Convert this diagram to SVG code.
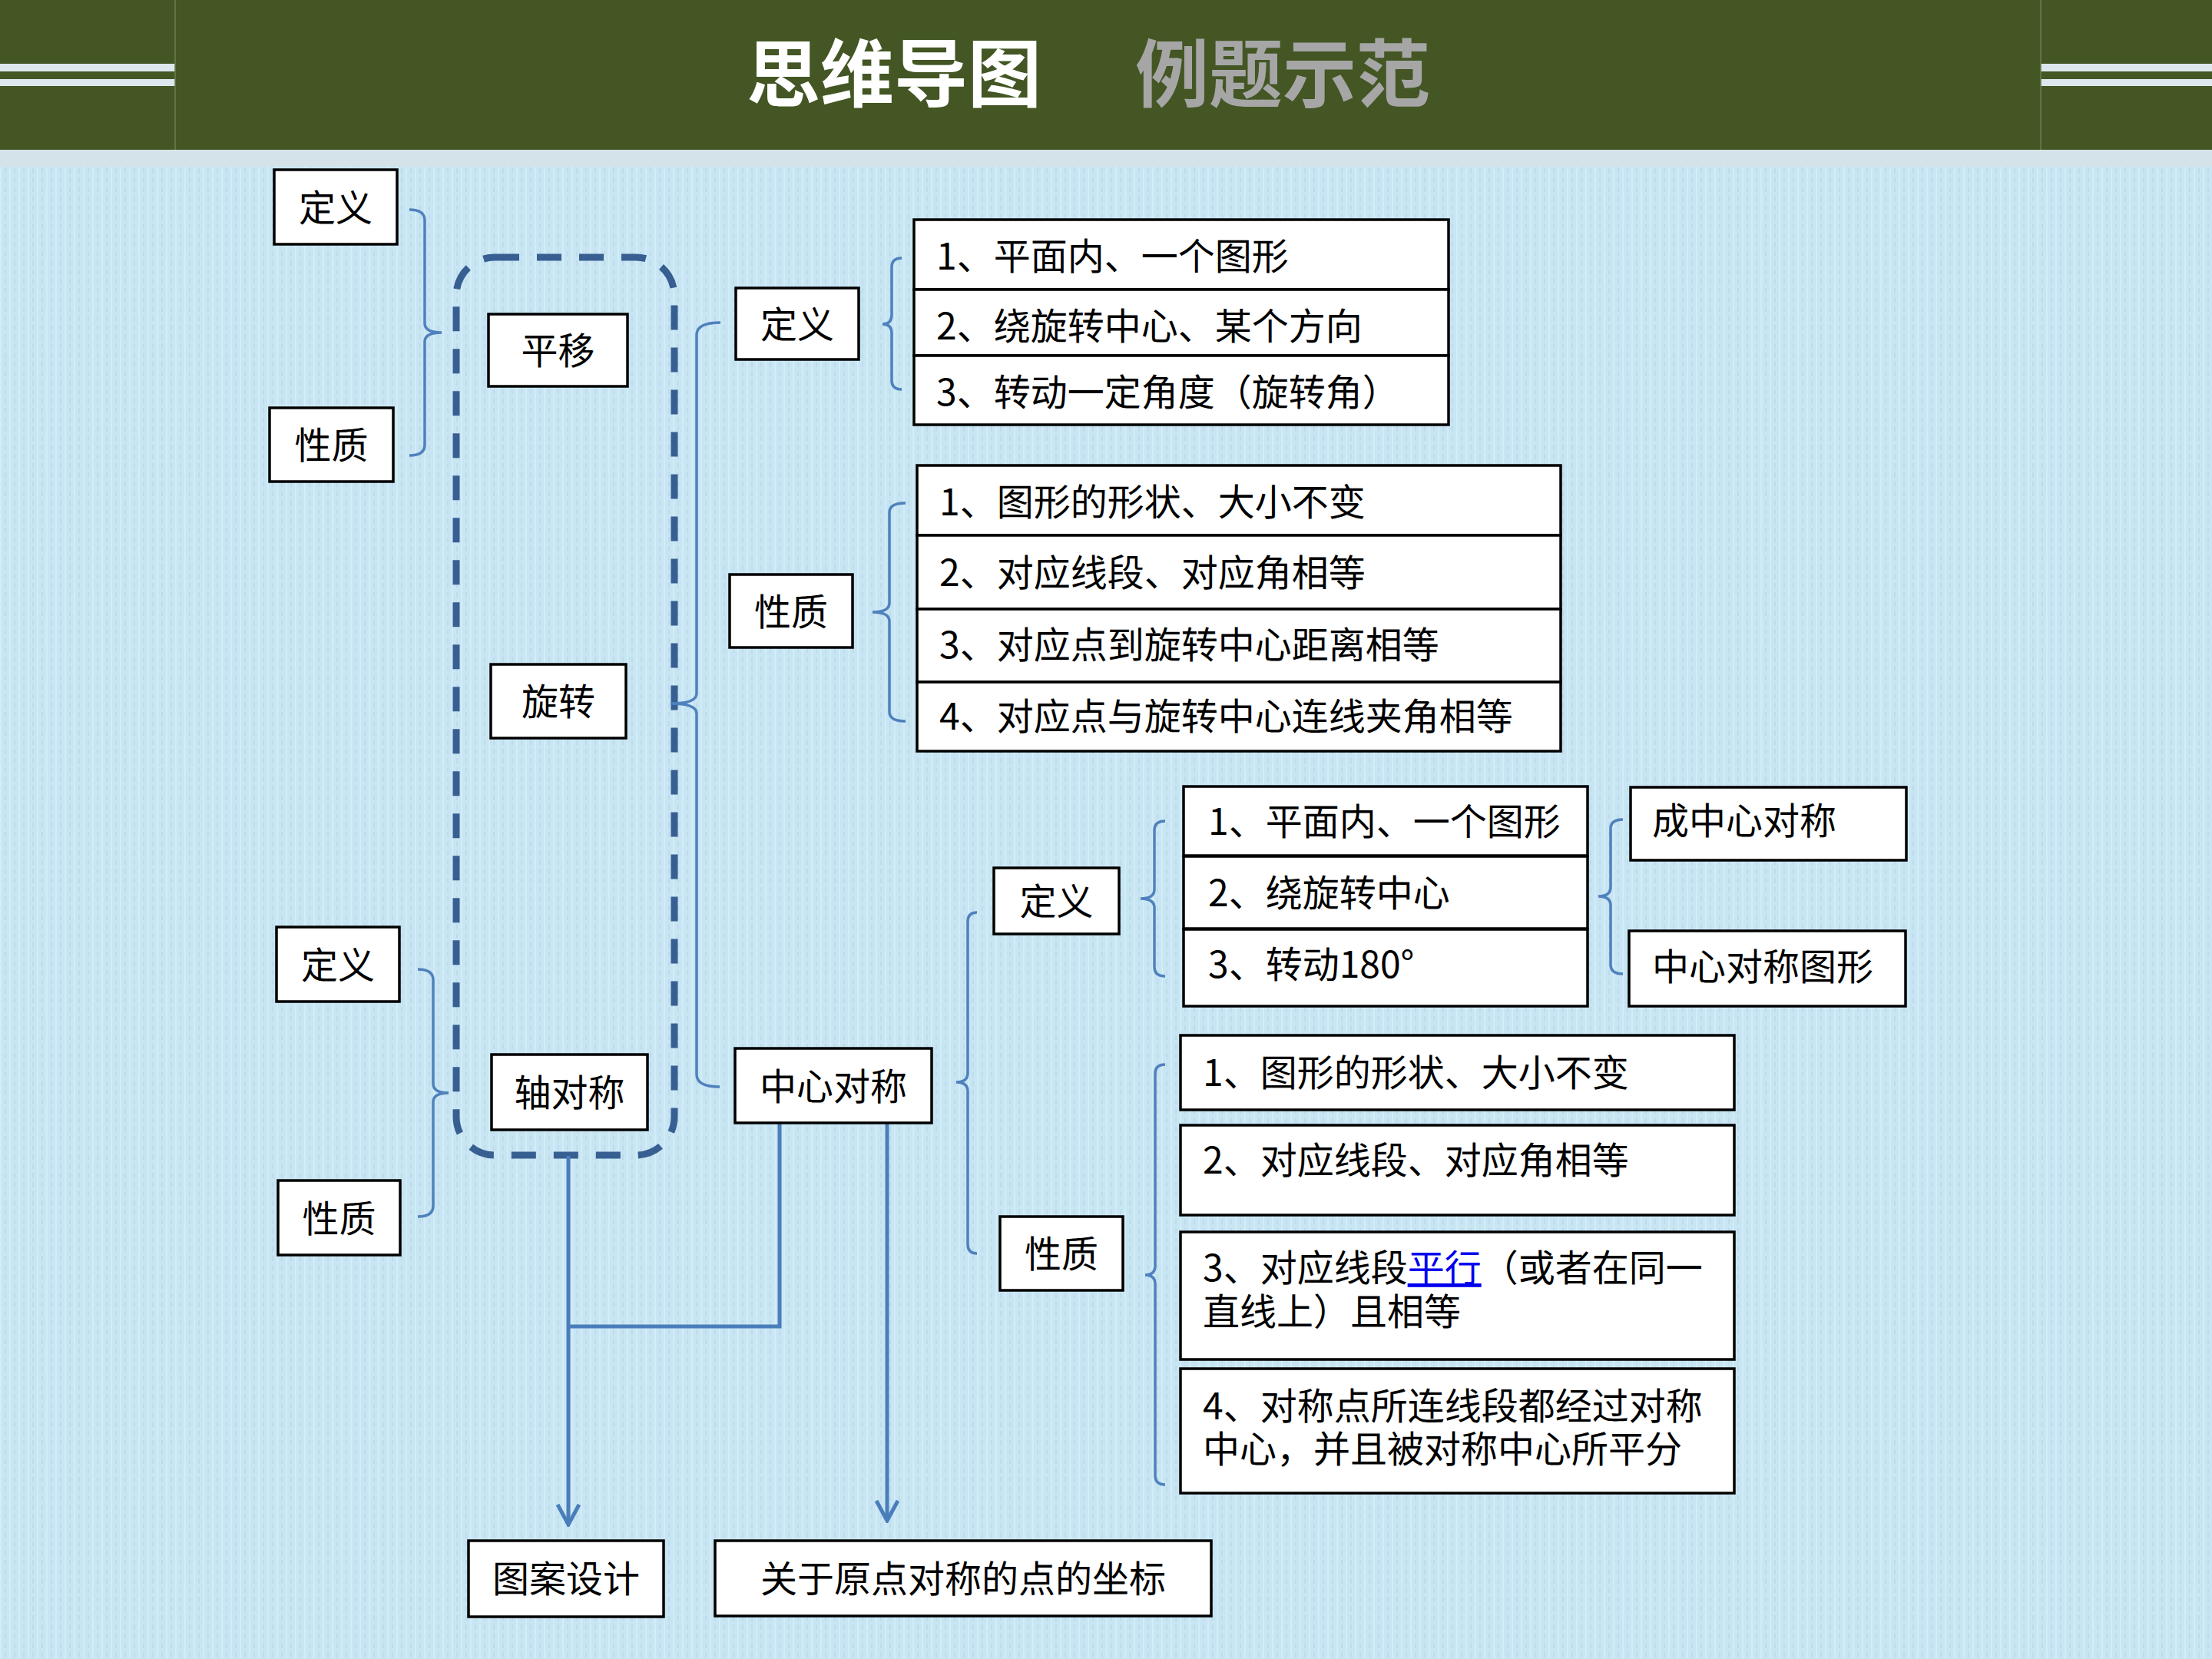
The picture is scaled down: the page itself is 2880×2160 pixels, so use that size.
<svg xmlns="http://www.w3.org/2000/svg" width="2880" height="2160" viewBox="0 0 2880 2160">
<defs>
<style>
text{font-family:"Noto Sans CJK SC","Noto Sans",sans-serif;fill:#000;}
.lbl{font-size:48px;text-anchor:middle;}
.itm{font-size:48px;}
.box{fill:#fff;stroke:#000;stroke-width:3.5;}
.brace{fill:none;stroke:#4f81bd;stroke-width:3.5;}
.conn{fill:none;stroke:#4a7ebb;stroke-width:5;}
</style>
<pattern id="tex" width="12" height="12" patternUnits="userSpaceOnUse">
<rect width="12" height="12" fill="#c8e5f3"/>
<rect x="0" y="0" width="2" height="12" fill="#d2ecf8"/>
<rect x="6" y="3" width="2" height="7" fill="#bedcea"/>
</pattern>
<marker id="arr" viewBox="0 0 32 32" refX="29" refY="16" markerWidth="32" markerHeight="32" markerUnits="userSpaceOnUse" orient="auto">
<path d="M3,2 L29,16 L3,30" fill="none" stroke="#4a7ebb" stroke-width="5"/>
</marker>
</defs>

<g id="background">
<rect width="2880" height="2160" fill="url(#tex)"/>
<rect x="0" y="195" width="2880" height="22" fill="#d4e3ea"/>
<rect x="0" y="0" width="2880" height="195" fill="#435624"/>
<rect x="0" y="83" width="228" height="10" fill="#dce8ee"/>
<rect x="0" y="103" width="228" height="9" fill="#dce8ee"/>
<rect x="2657" y="83" width="223" height="10" fill="#dce8ee"/>
<rect x="2657" y="103" width="223" height="9" fill="#dce8ee"/>
<line x1="228" y1="0" x2="228" y2="195" stroke="#6b7d52" stroke-width="1.5"/>
<line x1="2657" y1="0" x2="2657" y2="195" stroke="#6b7d52" stroke-width="1.5"/>
</g>

<g id="title">
<text x="972" y="131" font-size="96" font-weight="bold" style="fill:#ffffff">思维导图</text>
<text x="1478" y="131" font-size="96" font-weight="bold" style="fill:#a6a6a6">例题示范</text>
</g>

<g id="connectors">
<rect x="594" y="335" width="284" height="1169" rx="50" fill="none" stroke="#375f92" stroke-width="9" stroke-dasharray="32 23"/>
<path class="brace" d="M533,273 Q553,273 553,287 L553,421 Q553,433 575,433 Q553,433 553,445 L553,579 Q553,593 533,593"/>
<path class="brace" d="M544,1262 Q564,1262 564,1276 L564,1411 Q564,1423 584,1423 Q564,1423 564,1435 L564,1570 Q564,1584 544,1584"/>
<path class="brace" d="M938,420 Q907,420 907,436 L907,903 Q907,916 873,916 Q907,916 907,929 L907,1399 Q907,1415 937,1415"/>
<path class="brace" d="M1174,336 Q1161,336 1161,348 L1161,410 Q1161,422 1149,422 Q1161,422 1161,434 L1161,495 Q1161,507 1174,507"/>
<path class="brace" d="M1179,655 Q1158,655 1158,667 L1158,785 Q1158,797 1136,797 Q1158,797 1158,809 L1158,927 Q1158,939 1179,939"/>
<path class="brace" d="M1272,1188 Q1260,1188 1260,1200 L1260,1397 Q1260,1409 1245,1409 Q1260,1409 1260,1421 L1260,1620 Q1260,1632 1272,1632"/>
<path class="brace" d="M1517,1069 Q1503,1069 1503,1081 L1503,1158 Q1503,1170 1485,1170 Q1503,1170 1503,1182 L1503,1259 Q1503,1271 1517,1271"/>
<path class="brace" d="M2113,1067 Q2097,1067 2097,1079 L2097,1155 Q2097,1167 2081,1167 Q2097,1167 2097,1179 L2097,1256 Q2097,1268 2113,1268"/>
<path class="brace" d="M1517,1386 Q1504,1386 1504,1398 L1504,1648 Q1504,1660 1491,1660 Q1504,1660 1504,1672 L1504,1921 Q1504,1933 1517,1933"/>
<path class="conn" d="M740,1505 V1985" marker-end="url(#arr)"/>
<path class="conn" d="M1015,1463 V1727 H740"/>
<path class="conn" d="M1155,1463 V1980" marker-end="url(#arr)"/>
</g>

<g id="node-pingyi-dingyi"><rect class="box" x="357" y="221" width="160" height="97"/><text class="lbl" x="437" y="288">定义</text></g>
<g id="node-pingyi-xingzhi"><rect class="box" x="351" y="531" width="161" height="96"/><text class="lbl" x="431.5" y="597">性质</text></g>
<g id="node-pingyi"><rect class="box" x="636" y="409" width="181" height="94"/><text class="lbl" x="726.5" y="474">平移</text></g>
<g id="node-xuanzhuan"><rect class="box" x="639" y="865" width="176" height="96"/><text class="lbl" x="727" y="931">旋转</text></g>
<g id="node-zhouduicheng"><rect class="box" x="640" y="1373" width="203" height="98"/><text class="lbl" x="741.5" y="1440">轴对称</text></g>
<g id="node-zhongxinduicheng"><rect class="box" x="957" y="1365" width="256" height="97"/><text class="lbl" x="1085" y="1432">中心对称</text></g>
<g id="node-zhou-dingyi"><rect class="box" x="360" y="1207" width="160" height="97"/><text class="lbl" x="440" y="1274">定义</text></g>
<g id="node-zhou-xingzhi"><rect class="box" x="362" y="1537" width="159" height="97"/><text class="lbl" x="441.5" y="1604">性质</text></g>

<g id="node-xz-dingyi"><rect class="box" x="958" y="375" width="160" height="93"/><text class="lbl" x="1038" y="440">定义</text></g>
<g id="node-xz-dingyi-items">
<rect class="box" x="1190" y="286" width="696" height="91"/>
<rect class="box" x="1190" y="377" width="696" height="86"/>
<rect class="box" x="1190" y="463" width="696" height="90"/>
<text class="itm" x="1219" y="351">1、平面内、一个图形</text>
<text class="itm" x="1219" y="442">2、绕旋转中心、某个方向</text>
<text class="itm" x="1219" y="528">3、转动一定角度（旋转角）</text>
</g>
<g id="node-xz-xingzhi"><rect class="box" x="950" y="748" width="160" height="95"/><text class="lbl" x="1030" y="814">性质</text></g>
<g id="node-xz-xingzhi-items">
<rect class="box" x="1194" y="606" width="838" height="91"/>
<rect class="box" x="1194" y="697" width="838" height="96"/>
<rect class="box" x="1194" y="793" width="838" height="95"/>
<rect class="box" x="1194" y="888" width="838" height="90"/>
<text class="itm" x="1223" y="671">1、图形的形状、大小不变</text>
<text class="itm" x="1223" y="763">2、对应线段、对应角相等</text>
<text class="itm" x="1223" y="857">3、对应点到旋转中心距离相等</text>
<text class="itm" x="1223" y="950">4、对应点与旋转中心连线夹角相等</text>
</g>

<g id="node-zx-dingyi"><rect class="box" x="1294" y="1130" width="163" height="86"/><text class="lbl" x="1375.5" y="1191">定义</text></g>
<g id="node-zx-dingyi-items">
<rect class="box" x="1541" y="1024" width="526" height="90"/>
<rect class="box" x="1541" y="1115" width="526" height="94"/>
<rect class="box" x="1541" y="1210" width="526" height="100"/>
<text class="itm" x="1573" y="1087">1、平面内、一个图形</text>
<text class="itm" x="1573" y="1180">2、绕旋转中心</text>
<text class="itm" x="1573" y="1273">3、转动180°</text>
</g>
<g id="node-cheng-zxdc"><rect class="box" x="2123" y="1025" width="359" height="95"/><text class="itm" x="2151" y="1086">成中心对称</text></g>
<g id="node-zxdc-tuxing"><rect class="box" x="2121" y="1212" width="360" height="98"/><text class="itm" x="2151" y="1276">中心对称图形</text></g>

<g id="node-zx-xingzhi"><rect class="box" x="1302" y="1584" width="160" height="96"/><text class="lbl" x="1382" y="1650">性质</text></g>
<g id="node-zx-xingzhi-items">
<rect class="box" x="1537" y="1348" width="721" height="97"/>
<rect class="box" x="1537" y="1465" width="721" height="117"/>
<rect class="box" x="1537" y="1604" width="721" height="166"/>
<rect class="box" x="1537" y="1782" width="721" height="162"/>
<text class="itm" x="1566" y="1414">1、图形的形状、大小不变</text>
<text class="itm" x="1566" y="1528">2、对应线段、对应角相等</text>
<text class="itm"><tspan x="1566" y="1668">3、对应线段<tspan style="fill:#0000ee" text-decoration="underline">平行</tspan>（或者在同一</tspan><tspan x="1566" y="1725">直线上）且相等</tspan></text>
<text class="itm"><tspan x="1566" y="1848">4、对称点所连线段都经过对称</tspan><tspan x="1566" y="1904">中心，并且被对称中心所平分</tspan></text>
</g>

<g id="node-tuan-sheji"><rect class="box" x="610" y="2006" width="254" height="99"/><text class="lbl" x="737" y="2073">图案设计</text></g>
<g id="node-zuobiao"><rect class="box" x="931" y="2006" width="646" height="98"/><text class="lbl" x="1254" y="2073">关于原点对称的点的坐标</text></g>
</svg>
